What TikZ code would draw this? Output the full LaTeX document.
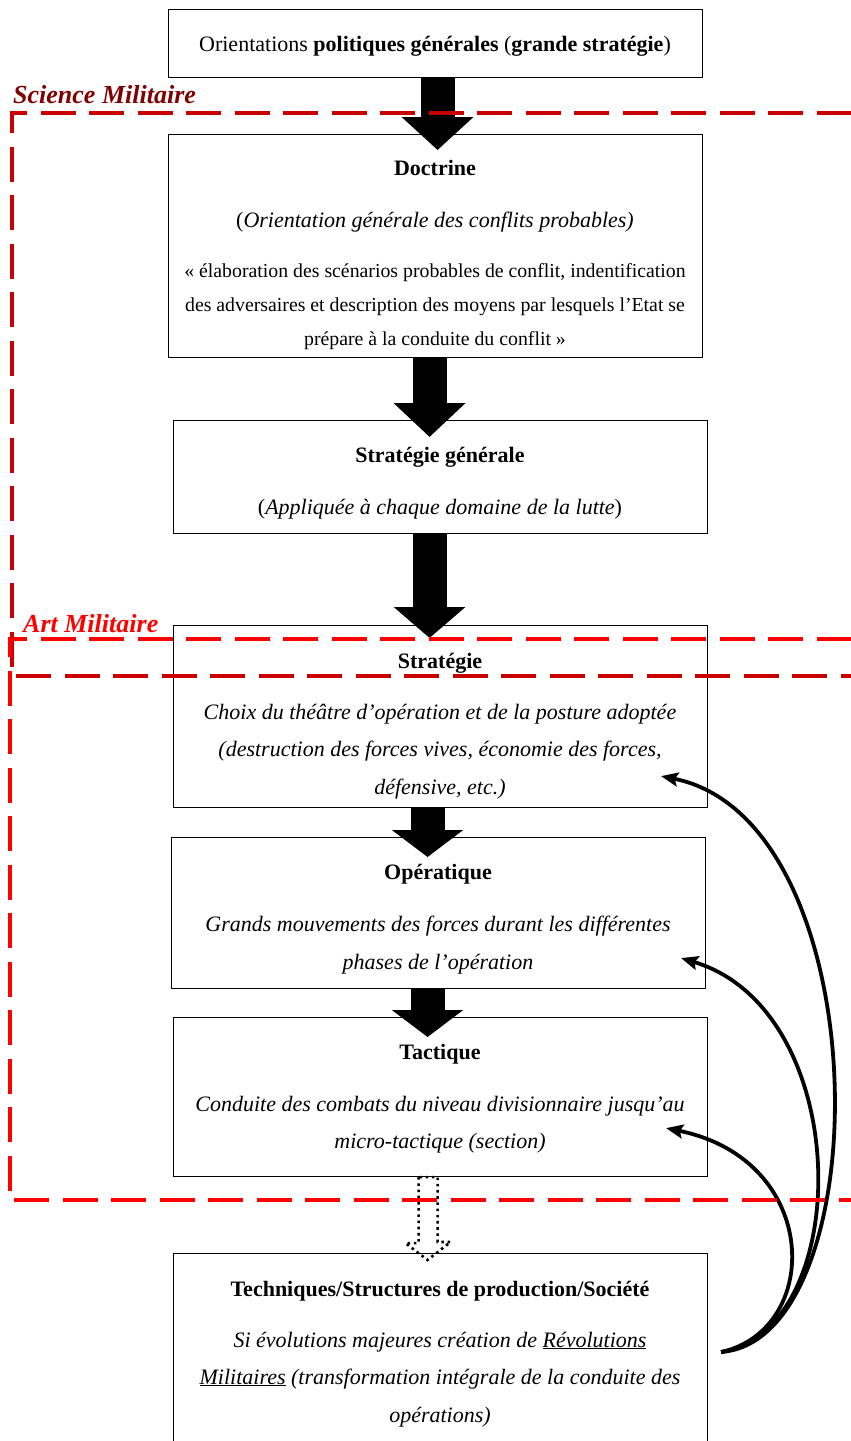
\documentclass[tikz,border=0pt]{standalone}
\usepackage{fontspec}
\setmainfont{Liberation Serif}
\usetikzlibrary{arrows.meta,calc}
\definecolor{sciline}{RGB}{200,0,0}
\definecolor{scitext}{RGB}{128,0,0}
\definecolor{artline}{RGB}{255,0,0}

\begin{document}
\begin{tikzpicture}[x=1pt,y=-1pt,
  box/.style={draw=black, line width=1.1pt, anchor=north west, inner sep=0pt, minimum width=534pt},
  txt/.style={anchor=base, inner sep=0pt, font=\fontsize{22}{24}\selectfont},
  quote/.style={anchor=base, inner sep=0pt, font=\fontsize{19.8}{22}\selectfont},
  bigarrow/.style={line width=34pt, -{Triangle[length=#1,width=70pt]}},
  bigarrow/.default=33pt,
  dotarrow/.style={draw=black, line width=2.6pt, dash pattern=on 2.6pt off 3.6pt},
  curvearrow/.style={line width=3.8pt, -{Stealth[length=17pt,width=14pt,inset=3pt]}},
  scidash/.style={draw=sciline, line width=4pt, dash pattern=on 35pt off 13.5pt},
  artdash/.style={draw=artline, line width=4pt, dash pattern=on 35pt off 13.5pt},
  zonelabel/.style={anchor=base west, inner sep=0pt, font=\fontsize{26}{28}\selectfont\bfseries\itshape}
]
\useasboundingbox (0,0) rectangle (851,1441);
\fill[white] (0,0) rectangle (851,1441);

% boxes of the hierarchy
\node[box, minimum height=68pt]  (top)   at (168,9)    {};
\node[box, minimum height=223pt] (doct)  at (168,134)  {};
\node[box, minimum height=113pt] (sgen)  at (173,420)  {};
\node[box, minimum height=182pt] (strat) at (173,625)  {};
\node[box, minimum height=151pt] (oper)  at (171,837)  {};
\node[box, minimum height=159pt] (tact)  at (173,1017) {};
\node[box, minimum height=220pt] (tech)  at (173,1253) {};

% block arrows between levels
\draw[bigarrow=33pt] ($(top.south)+(2,0)$)    -- ($(doct.north)+(2,16)$);
\draw[bigarrow=34pt] ($(doct.south)+(-6,0)$)  -- ($(sgen.north)+(-11,17)$);
\draw[bigarrow=31pt] ($(sgen.south)+(-11,0)$) -- ($(strat.north)+(-11,13)$);
\draw[bigarrow=27pt] ($(strat.south)+(-13,0)$) -- ($(oper.north)+(-11,20)$);
\draw[bigarrow=27pt] ($(oper.south)+(-11,0)$) -- ($(tact.north)+(-13,20)$);

% dotted outline arrow towards the techniques box
\draw[dotarrow] ($(tact.south)+(-22,0)$) -- ++(0,66) -- ++(-13,0)
  -- ($(tech.north)+(-13,7)$) -- ++(23,-18) -- ++(-13,0) -- ($(tact.south)+(-3,0)$) -- cycle;

% feedback arrows from the techniques box
\coordinate (src) at ($(tech.north east)+(13,99)$);
\coordinate (tipA) at ($(strat.south east)+(-47,-32)$);
\coordinate (tipB) at ($(oper.south east)+(-25,-31)$);
\coordinate (tipC) at ($(tact.south east)+(-42,-49)$);
\draw[curvearrow] (src) .. controls (880,1340) and (880,820) .. (tipA);
\draw[curvearrow] (src) .. controls (855,1330) and (855,1010) .. (tipB);
\draw[curvearrow] (src) .. controls (822,1330) and (822,1160) .. (tipC);

% zones
\draw[scidash] (900,113) -- (12,113) -- (12,676) -- (900,676);
\draw[artdash] (900,639) -- (10,639) -- (10,1200) -- (900,1200);
\node[zonelabel, text=scitext] (scilab) at (13,103) {Science Militaire};
\node[zonelabel, text=artline] (artlab) at (23,632) {Art Militaire};

% texts
\node[txt] (t1) at (435,51) {Orientations \textbf{politiques générales} (\textbf{grande stratégie})};

\node[txt] (d1) at (435,175) {\textbf{Doctrine}};
\node[txt] (d2) at (435,227) {(\textit{Orientation générale des conflits probables)}};
\node[quote] (d3) at (435,277) {« élaboration des scénarios probables de conflit, indentification};
\node[quote] (d4) at (435,311) {des adversaires et description des moyens par lesquels l’Etat se};
\node[quote] (d5) at (435,345) {prépare à la conduite du conflit »};

\node[txt] (g1) at (440,462) {\textbf{Stratégie générale}};
\node[txt] (g2) at (440,514) {(\textit{Appliquée à chaque domaine de la lutte})};

\node[txt] (s1) at (440,668) {\textbf{Stratégie}};
\node[txt] (s2) at (440,719) {\textit{Choix du théâtre d’opération et de la posture adoptée}};
\node[txt] (s3) at (440,756) {\textit{(destruction des forces vives, économie des forces,}};
\node[txt] (s4) at (440,794) {\textit{défensive, etc.)}};

\node[txt] (o1) at (438,879) {\textbf{Opératique}};
\node[txt] (o2) at (438,931) {\textit{Grands mouvements des forces durant les différentes}};
\node[txt] (o3) at (438,969) {\textit{phases de l’opération}};

\node[txt] (c1) at (440,1059) {\textbf{Tactique}};
\node[txt] (c2) at (440,1111) {\textit{Conduite des combats du niveau divisionnaire jusqu’au}};
\node[txt] (c3) at (440,1148) {\textit{micro-tactique (section)}};

\node[txt] (e1) at (440,1296) {\textbf{Techniques/Structures de production/Société}};
\node[txt] (e2) at (440,1347) {\textit{Si évolutions majeures création de \underline{Révolutions}}};
\node[txt] (e3) at (440,1384) {\textit{\underline{Militaires} (transformation intégrale de la conduite des}};
\node[txt] (e4) at (440,1422) {\textit{opérations)}};
\end{tikzpicture}
\end{document}
